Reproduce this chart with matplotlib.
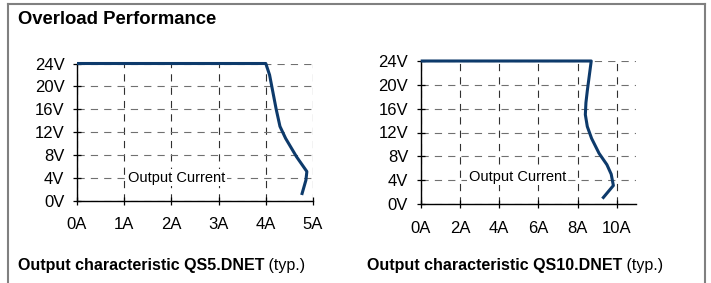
import matplotlib
matplotlib.use("Agg")
import matplotlib.pyplot as plt
from matplotlib.lines import Line2D

plt.rcParams['font.family'] = ['Liberation Sans', 'DejaVu Sans']

# ---- data ----
left_x = [0, 4.0, 4.08, 4.15, 4.22, 4.30, 4.42, 4.65, 4.87, 4.85, 4.76]
left_y = [24, 24, 22.0, 19.0, 16.0, 13.0, 10.9, 7.7, 5.1, 3.6, 1.0]
left_xticks = [0, 1, 2, 3, 4, 5]
left_xlabels = ["0A", "1A", "2A", "3A", "4A", "5A"]

right_x = [0, 8.7, 8.6, 8.5, 8.43, 8.4, 8.5, 8.72, 9.1, 9.5, 9.72, 9.83, 9.27]
right_y = [24, 24, 21.5, 19, 17, 15, 13, 11, 8.5, 6.6, 5.0, 3.1, 0.9]
right_xticks = [0, 2, 4, 6, 8, 10]
right_xlabels = ["0A", "2A", "4A", "6A", "8A", "10A"]

yticks = [0, 4, 8, 12, 16, 20, 24]
ylabels = ["0V", "4V", "8V", "12V", "16V", "20V", "24V"]

title = "Overload Performance"
cap_left = "Output characteristic QS5.DNET"
cap_right = "Output characteristic QS10.DNET"
cap_suffix = " (typ.)"
inner_label = "Output Current"

W, H = 711, 283
fig = plt.figure(figsize=(W / 100, H / 100), dpi=100)

line_color = "#0d3a6b"


def setup(ax, xs, ys, xticks, xlabels, xmax, label_pos):
    ax.set_xlim(0, xmax)
    ax.set_ylim(0, 24)
    ax.set_xticks(xticks)
    ax.set_xticklabels(xlabels)
    ax.set_yticks(yticks)
    ax.set_yticklabels(ylabels)
    for s in ("top", "right"):
        ax.spines[s].set_visible(False)
    for s in ("left", "bottom"):
        ax.spines[s].set_linewidth(1.0)
        ax.spines[s].set_color("black")
    ax.tick_params(axis="both", direction="inout", length=6, width=0.9,
                   labelsize=12, colors="black")
    ax.tick_params(axis="x", pad=9)
    ax.tick_params(axis="y", pad=6)
    ax.grid(axis="x", color="#303030", linestyle=(0, (6.5, 5.5)), linewidth=0.8)
    ax.grid(axis="y", color="#707070", linestyle=(0, (6.5, 5.5)), linewidth=0.8)
    ax.set_axisbelow(True)
    ax.plot(xs, ys, color=line_color, linewidth=2.2, clip_on=False,
            solid_joinstyle="round", solid_capstyle="butt", zorder=5)
    ax.text(label_pos[0], label_pos[1], inner_label, fontsize=10.5, va="center",
            ha="left", bbox=dict(facecolor="white", edgecolor="none", pad=1),
            zorder=4)


ax1 = fig.add_axes([77 / W, 1 - 200.7 / H, (313 - 77) / W, (200.7 - 63.5) / H])
setup(ax1, left_x, left_y, left_xticks, left_xlabels, 5, (1.08, 4.0))

ax2 = fig.add_axes([420.7 / W, 1 - 204 / H, (636.3 - 420.7) / W, (204 - 61) / H])
setup(ax2, right_x, right_y, right_xticks, right_xlabels, 11, (2.45, 4.6))

# title and captions
fig.text(18 / W, 1 - 24.3 / H, title, fontsize=13.3, fontweight="bold",
         ha="left", va="baseline")

for x0, cap in ((18, cap_left), (366.7, cap_right)):
    t = fig.text(x0 / W, 1 - 270 / H, cap, fontsize=11.5, fontweight="bold",
                 ha="left", va="baseline")
    fig.canvas.draw()
    bb = t.get_window_extent()
    fig.text(bb.x1 / W, 1 - 270 / H, cap_suffix, fontsize=11.5,
             ha="left", va="baseline")

# frame (left, top, right)
fc = "#808080"
fig.add_artist(Line2D([8.3 / W, 8.3 / W], [0, 1 - 4.3 / H], color=fc, lw=1.5,
                      transform=fig.transFigure))
fig.add_artist(Line2D([8.3 / W, 705 / W], [1 - 4.3 / H, 1 - 4.3 / H], color=fc,
                      lw=1.5, transform=fig.transFigure))
fig.add_artist(Line2D([705 / W, 705 / W], [0, 1 - 4.3 / H], color=fc, lw=1.5,
                      transform=fig.transFigure))

fig.savefig("out.png", dpi=100)
